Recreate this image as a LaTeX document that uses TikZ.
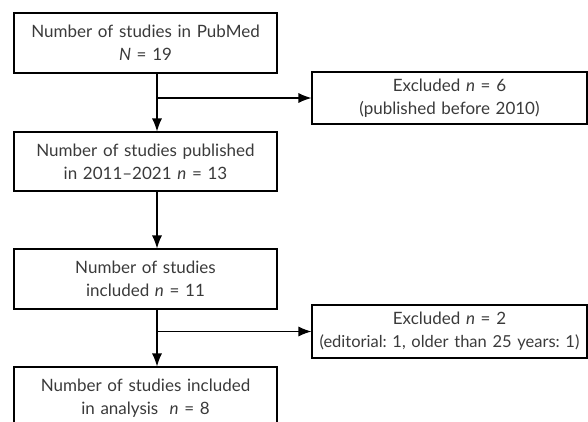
\documentclass[tikz,border=0pt]{standalone}
\usepackage{fontspec}
\setmainfont{Lato}
\usetikzlibrary{arrows.meta}
\definecolor{txt}{HTML}{3A3A3A}
\begin{document}
\begin{tikzpicture}[x=1pt,y=-1pt,
  box/.style={draw=black, line width=1.1pt, inner sep=0pt, align=center,
    text=txt, font=\fontsize{17}{23}\selectfont\frenchspacing},
  mainbox/.style={box, minimum width=263pt, text width=258pt},
  exbox/.style={box, minimum width=275pt, text width=274pt},
  arr/.style={draw=black, line width=1.1pt, -{Latex[length=13pt,width=10pt]}}]
\useasboundingbox (0,0) rectangle (588,421);
\clip (0,0) rectangle (588,421);
\node[mainbox, minimum height=60pt] (b1) at (145.5,43) {Number of studies in PubMed\\\textit{N} = 19};
\node[mainbox, minimum height=59pt] (b2) at (145.5,161.5) {Number of studies published\\in 2011–2021 \textit{n} = 13};
\node[mainbox, minimum height=60pt] (b3) at (145.5,279) {Number of studies\\included \textit{n} = 11};
\node[mainbox, minimum height=62pt] (b4) at (145.5,398) {Number of studies included\\in analysis~ \textit{n} = 8};
\node[exbox, minimum height=52pt] (e1) at (449.5,98) {Excluded \textit{n} = 6\\(published before 2010)};
\node[exbox, minimum height=53pt] (e2) at (449.5,331.5) {Excluded \textit{n} = 2\\{\fontsize{16.5}{23}\selectfont(editorial: 1, older than 25 years: 1)}};
\coordinate (c1) at (157,98);
\coordinate (c2) at (157,331.5);
\draw[arr] (b1.south -| c1) -- (b2.north -| c1);
\draw[arr] (c1) -- (e1.west);
\draw[arr] (b2.south -| c1) -- (b3.north -| c1);
\draw[arr] (b3.south -| c2) -- (b4.north -| c2);
\draw[arr] (c2) -- (e2.west);
\end{tikzpicture}
\end{document}
